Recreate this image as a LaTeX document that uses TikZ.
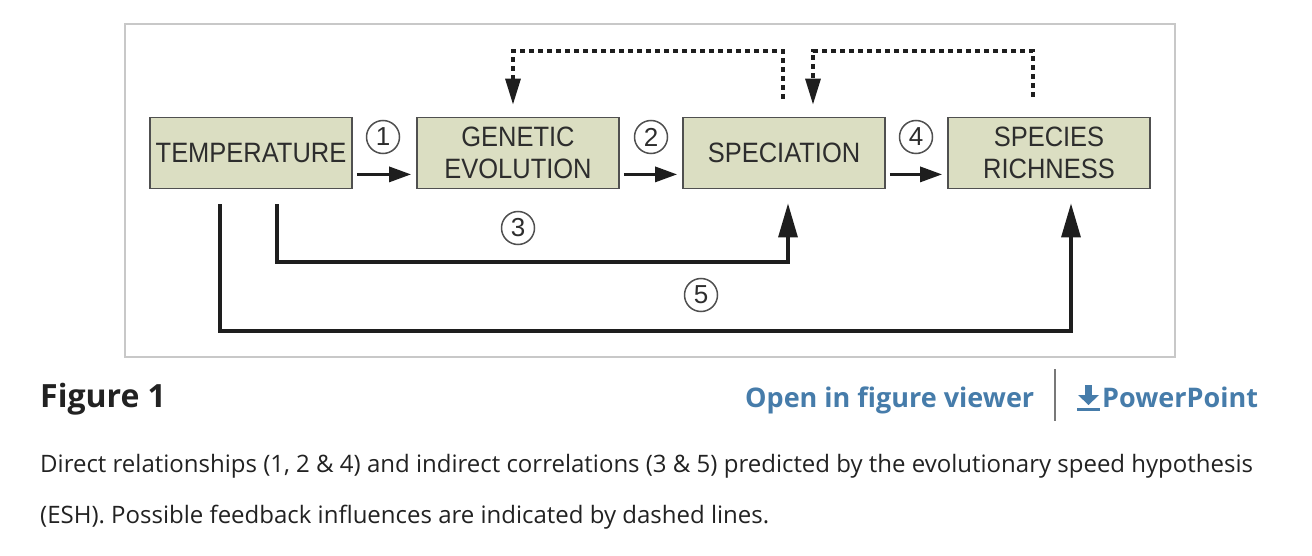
\documentclass[tikz,border=0pt]{standalone}
\usepackage{fontspec}
\setmainfont{Open Sans}
\newfontfamily\boxfont[FakeStretch=0.91]{Liberation Sans}
\newfontfamily\numfont{Liberation Sans}
\usetikzlibrary{arrows.meta,calc}
\definecolor{boxfill}{RGB}{219,222,194}
\definecolor{boxline}{RGB}{80,80,80}
\definecolor{ink}{RGB}{30,30,30}
\definecolor{dtext}{RGB}{45,45,45}
\definecolor{framecol}{RGB}{200,200,200}
\definecolor{linkcol}{RGB}{70,124,170}
\definecolor{captext}{RGB}{34,34,34}
\definecolor{sepcol}{RGB}{120,120,120}
\tikzset{
  stagebox/.style={draw=boxline, fill=boxfill, line width=1.8pt, minimum width=202pt,
    minimum height=71pt, inner sep=0pt, align=center, text=dtext,
    font=\boxfont\fontsize{28}{32}\selectfont},
  numcirc/.style={circle, draw=boxline, line width=1.5pt, minimum size=33pt, inner sep=0pt,
    text=dtext, font=\numfont\fontsize{26}{26}\selectfont},
  conn/.style={draw=ink, line width=3.2pt},
  harr/.style={conn, -{Triangle[length=22pt, width=15pt]}},
  varr/.style={conn, -{Triangle[length=34pt, width=19pt]}},
  fback/.style={draw=ink, line width=3.2pt, dash pattern=on 5pt off 4pt,
    -{Triangle[length=26pt, width=15pt]}},
  link/.style={inner sep=0pt, text=linkcol, font=\fontsize{27}{32}\selectfont\bfseries},
  body/.style={inner sep=0pt, text=captext, font=\fontsize{24}{28}\selectfont}
}
\begin{document}
\begin{tikzpicture}[x=1pt,y=-1pt]
\useasboundingbox (0,0) rectangle (1312,556);
\fill[white] (0,0) rectangle (1312,556);
\draw[framecol, line width=1.6pt] (125,24) rectangle (1175,357);

\node[stagebox] (temp) at (251,153) {TEMPERATURE};
\node[stagebox] (ge) at (518,153) {GENETIC\\EVOLUTION};
\node[stagebox] (sp) at (784,153) {SPECIATION};
\node[stagebox] (sr) at (1049,153) {SPECIES\\RICHNESS};

\node[numcirc] (n1) at (383,137) {1};
\node[numcirc] (n2) at (651,137) {2};
\node[numcirc] (n4) at (916,137) {4};
\node[numcirc] (n3) at (518,228) {3};
\node[numcirc] (n5) at (701,295) {5};

% direct arrows
\draw[harr] ($(temp.south east)+(4,-15)$) -- ($(ge.south west)+(-5,-15)$);
\draw[harr] ($(ge.south east)+(4,-15)$) -- ($(sp.south west)+(-5,-15)$);
\draw[harr] ($(sp.south east)+(4,-15)$) -- ($(sr.south west)+(-5,-15)$);

% indirect paths
\coordinate (s3) at ($(temp.south)+(26,15)$);
\coordinate (s5) at ($(temp.south)+(-31,15)$);
\draw[varr] (s3) -- (277,262) -- (788,262) -- ($(sp.south)+(4,14)$);
\draw[varr] (s5) -- (220,331) -- (1071,331) -- ($(sr.south)+(22,14)$);

% feedback
\coordinate (f1) at ($(sp.north)+(-1,-18)$);
\coordinate (f2) at ($(sr.north)+(-16,-20)$);
\draw[fback] (f1) -- (783,51) -- (513,51) -- ($(ge.north)+(-5,-12)$);
\draw[fback] (f2) -- (1033,51) -- (813,51) -- ($(sp.north)+(29,-12)$);

% caption area
\node[anchor=base west, inner sep=0pt, text=captext, font=\fontsize{32}{38}\selectfont\bfseries] (fig) at (40,407) {Figure 1};
\node[anchor=base west, link] (open) at (745,407) {Open in figure viewer};
\draw[sepcol, line width=1.6pt] (1055,369) -- (1055,421);
\fill[linkcol] (1085,385) rectangle (1092,396);
\fill[linkcol] (1078,395) -- (1099,395) -- (1088.5,405) -- cycle;
\fill[linkcol] (1077,408) rectangle (1100,411);
\node[anchor=base west, link] (ppt) at (1102,407) {PowerPoint};
\node[anchor=base west, body] (cap1) at (40,472) {Direct relationships (1, 2 \& 4) and indirect correlations (3 \& 5) predicted by the evolutionary speed hypothesis};
\node[anchor=base west, body] (cap2) at (40,523) {(ESH). Possible feedback influences are indicated by dashed lines.};
\end{tikzpicture}
\end{document}
